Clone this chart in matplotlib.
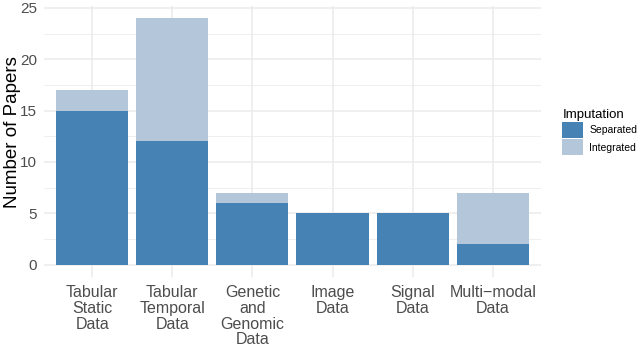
import numpy as np
import matplotlib
matplotlib.use("Agg")
import matplotlib.pyplot as plt
from matplotlib.patches import Patch

plt.rcParams['font.family'] = ['Liberation Sans', 'DejaVu Sans']

categories = ["Tabular\nStatic\nData", "Tabular\nTemporal\nData", "Genetic\nand\nGenomic\nData",
              "Image\nData", "Signal\nData", "Multi\u2212modal\nData"]
separated = [15, 12, 6, 5, 5, 2]
integrated = [2, 12, 1, 0, 0, 5]

col_sep = "#4682b4"
col_int = "#b3c6da"
grid_col = "#ebebeb"

fig = plt.figure(figsize=(6.4, 3.48), dpi=100)
ax = fig.add_axes([0.069, 0.204, 0.776, 0.779])

x = np.arange(1, len(categories) + 1)
sep = np.array(separated)
itg = np.array(integrated)

ax.bar(x, sep, width=0.9, color=col_sep, zorder=3)
ax.bar(x, itg, width=0.9, bottom=sep, color=col_int, zorder=3)

ax.set_xlim(0.4, 6.6)
ax.set_ylim(-1.2, 25.2)
ax.set_yticks([0, 5, 10, 15, 20, 25])
ax.set_yticks([2.5, 7.5, 12.5, 17.5, 22.5], minor=True)
ax.set_xticks(x)
ax.set_xticklabels(categories)

ax.grid(which='major', color=grid_col, linewidth=1.1, zorder=0)
ax.grid(which='minor', axis='y', color=grid_col, linewidth=0.55, zorder=0)
ax.set_axisbelow(True)
for s in ax.spines.values():
    s.set_visible(False)
ax.tick_params(which='both', length=0)
ax.tick_params(axis='y', labelsize=11, labelcolor='#4d4d4d', pad=5)
ax.tick_params(axis='x', labelsize=11.5, labelcolor='#4d4d4d', pad=6)
for lbl in ax.get_xticklabels():
    lbl.set_linespacing(1.05)
    lbl.set_verticalalignment('top')

ax.set_ylabel("Number of Papers", fontsize=13.5)
ax.yaxis.set_label_coords(-0.047, 0.535)

handles = [Patch(facecolor=col_sep, label="Separated"),
           Patch(facecolor=col_int, label="Integrated")]
leg = ax.legend(handles=handles, title="Imputation", loc='upper left',
                bbox_to_anchor=(1.035, 0.635), frameon=False, fontsize=7.5,
                title_fontsize=9.5, handlelength=2.0, handleheight=2.0,
                handletextpad=0.6, labelspacing=0.1, borderaxespad=0)
leg._legend_box.align = "left"

fig.savefig("out.png", dpi=100)
